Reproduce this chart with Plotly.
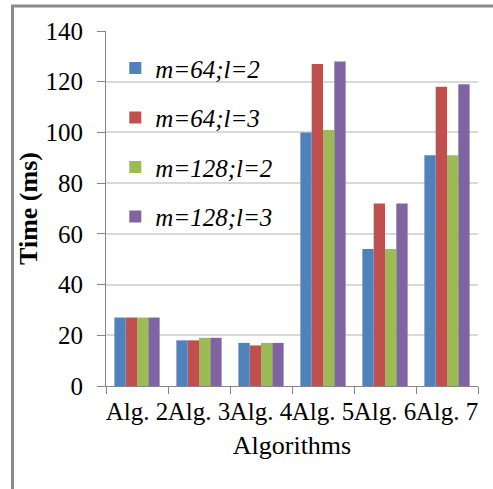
import plotly.graph_objects as go

categories = ["Alg. 2", "Alg. 3", "Alg. 4", "Alg. 5", "Alg. 6", "Alg. 7"]
series_names = ["m=64;l=2", "m=64;l=3", "m=128;l=2", "m=128;l=3"]
s_m64_l2 = [27, 18, 17, 100, 54, 91]
s_m64_l3 = [27, 18, 16, 127, 72, 118]
s_m128_l2 = [27, 19, 17, 101, 54, 91]
s_m128_l3 = [27, 19, 17, 128, 72, 119]
colors = ["#4F81BD", "#C0504D", "#9BBB59", "#8064A2"]
y_ticks = [0, 20, 40, 60, 80, 100, 120, 140]

FONT = "Liberation Serif"

fig = go.Figure()
for i, (name, vals) in enumerate(zip(series_names, [s_m64_l2, s_m64_l3, s_m128_l2, s_m128_l3])):
    fig.add_trace(go.Bar(
        x=categories, y=vals, name=f"<i>{name}</i>", legendgroup=f"g{i}",
        marker=dict(color=colors[i], line=dict(width=0)),
    ))

fig.update_layout(
    width=493, height=489,
    margin=dict(l=106, r=15, t=31, b=103),
    paper_bgcolor="white", plot_bgcolor="white",
    barmode="group", bargap=0.27, bargroupgap=0,
    font=dict(family=FONT, size=24, color="black"),
    showlegend=True,
    legend=dict(
        x=0.025, y=0.96, xanchor="left", yanchor="top",
        bgcolor="rgba(0,0,0,0)",
        font=dict(family=FONT, size=25, color="black"),
        tracegroupgap=14,
        itemclick=False,
    ),
    xaxis=dict(
        type="category",
        showline=True, linecolor="#868686", linewidth=1,
        ticks="outside", tickson="boundaries", ticklen=7, tickcolor="#868686",
        tickfont=dict(family=FONT, size=25),
        tickangle=0, ticklabelstandoff=3,
        title=dict(text="Algorithms", font=dict(family=FONT, size=26), standoff=11),
        showgrid=False,
    ),
    yaxis=dict(
        range=[0, 140], tickvals=y_ticks,
        showline=True, linecolor="#868686", linewidth=1,
        ticks="outside", ticklen=8, tickcolor="#868686",
        tickfont=dict(family=FONT, size=25),
        ticklabelstandoff=9,
        showgrid=True, gridcolor="#D9D9D9", gridwidth=1.5,
        zeroline=False,
        title=dict(text="<b>Time (ms)</b>", font=dict(family=FONT, size=26), standoff=0),
    ),
    shapes=[
        dict(type="line", xref="paper", yref="paper", xsizemode="pixel", ysizemode="pixel",
             xanchor=0, yanchor=0, x0=-93.5, x1=-93.5, y0=-110, y1=381,
             line=dict(color="#8A8A8A", width=3)),
        dict(type="line", xref="paper", yref="paper", xsizemode="pixel", ysizemode="pixel",
             xanchor=0, yanchor=0, x0=-95, x1=400, y0=380, y1=380,
             line=dict(color="#8A8A8A", width=3)),
    ],
)

fig.write_html("out.html")
